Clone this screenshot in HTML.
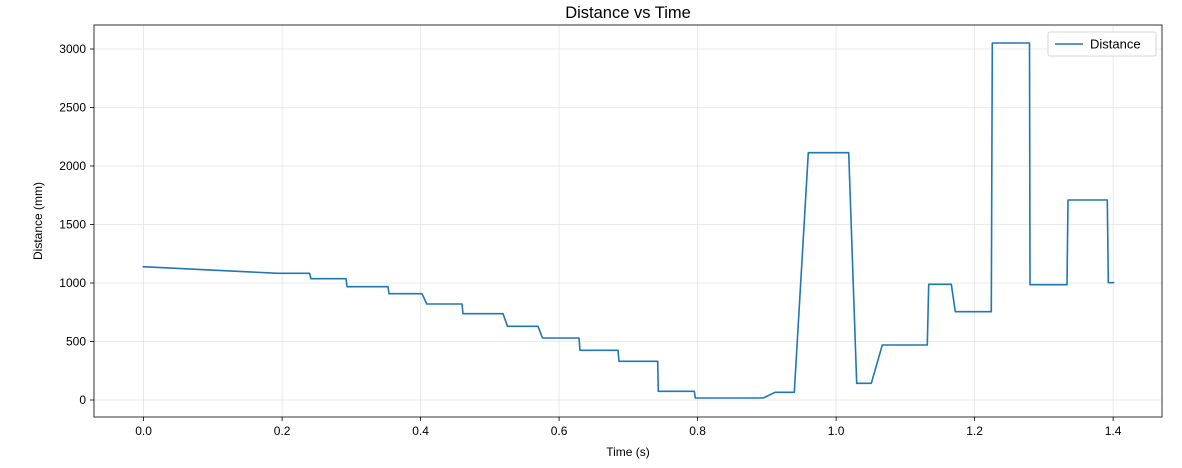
<!DOCTYPE html>
<html><head><meta charset="utf-8"><style>body{margin:0;background:#fff}svg{display:block}text{font-family:"Liberation Sans","DejaVu Sans",sans-serif;fill:#000}</style></head>
<body>
<svg width="1182" height="468" viewBox="0 0 1182 468" xmlns="http://www.w3.org/2000/svg">
<g stroke="#e5e5e5" stroke-width="0.8">
<line x1="143.6" y1="25" x2="143.6" y2="417"/><line x1="282.1" y1="25" x2="282.1" y2="417"/><line x1="420.6" y1="25" x2="420.6" y2="417"/><line x1="559.1" y1="25" x2="559.1" y2="417"/><line x1="697.6" y1="25" x2="697.6" y2="417"/><line x1="836.1" y1="25" x2="836.1" y2="417"/><line x1="974.6" y1="25" x2="974.6" y2="417"/><line x1="1113.1" y1="25" x2="1113.1" y2="417"/>
<line x1="94" y1="400" x2="1162" y2="400"/><line x1="94" y1="341.5" x2="1162" y2="341.5"/><line x1="94" y1="283" x2="1162" y2="283"/><line x1="94" y1="224.5" x2="1162" y2="224.5"/><line x1="94" y1="166" x2="1162" y2="166"/><line x1="94" y1="107.5" x2="1162" y2="107.5"/><line x1="94" y1="49" x2="1162" y2="49"/>
</g>
<polyline fill="none" stroke="#1f77b4" stroke-width="1.6" stroke-linejoin="round" points="142.5,266.7 278,273.3 309.6,273.3 311,278.7 346,278.7 347,286.7 388,286.7 389,293.7 422,293.7 426.8,304 462,304 463,313.7 503,313.7 507.5,326.3 538,326.3 542.5,338 579,338 580,350.3 618,350.3 619,361.3 657.7,361.3 658.3,391.3 694.3,391.3 695.3,398 763.3,398 775,392.3 794.3,392.3 808.3,152.7 848.7,152.7 856.7,383.3 871.3,383.3 882.3,345 927.3,345 928.7,284.3 951.3,284.3 955.3,311.7 991.3,311.7 992.3,43 1029.5,43 1030,284.7 1067,284.7 1068,200 1107.3,200 1108.3,282.7 1114.3,282.7"/>
<rect x="94" y="25" width="1068" height="392" fill="none" stroke="#000" stroke-width="0.8"/>
<g stroke="#000" stroke-width="0.8">
<line x1="143.6" y1="417" x2="143.6" y2="421"/><line x1="282.1" y1="417" x2="282.1" y2="421"/><line x1="420.6" y1="417" x2="420.6" y2="421"/><line x1="559.1" y1="417" x2="559.1" y2="421"/><line x1="697.6" y1="417" x2="697.6" y2="421"/><line x1="836.1" y1="417" x2="836.1" y2="421"/><line x1="974.6" y1="417" x2="974.6" y2="421"/><line x1="1113.1" y1="417" x2="1113.1" y2="421"/>
<line x1="90" y1="400" x2="94" y2="400"/><line x1="90" y1="341.5" x2="94" y2="341.5"/><line x1="90" y1="283" x2="94" y2="283"/><line x1="90" y1="224.5" x2="94" y2="224.5"/><line x1="90" y1="166" x2="94" y2="166"/><line x1="90" y1="107.5" x2="94" y2="107.5"/><line x1="90" y1="49" x2="94" y2="49"/>
</g>
<g font-size="12" text-anchor="middle">
<text x="143.6" y="435">0.0</text><text x="282.1" y="435">0.2</text><text x="420.6" y="435">0.4</text><text x="559.1" y="435">0.6</text><text x="697.6" y="435">0.8</text><text x="836.1" y="435">1.0</text><text x="974.6" y="435">1.2</text><text x="1113.1" y="435">1.4</text>
<text x="628" y="456">Time (s)</text>
</g>
<g font-size="12" text-anchor="end">
<text x="86" y="404">0</text><text x="86" y="345.5">500</text><text x="86" y="287">1000</text><text x="86" y="228.5">1500</text><text x="86" y="170">2000</text><text x="86" y="111.5">2500</text><text x="86" y="53">3000</text>
</g>
<text x="42" y="221" font-size="12" text-anchor="middle" transform="rotate(-90 42 221)">Distance (mm)</text>
<text x="628" y="18" font-size="16.5" text-anchor="middle">Distance vs Time</text>
<rect x="1048" y="32" width="108" height="24" rx="2" fill="#fff" stroke="#ccc" stroke-width="0.8"/>
<line x1="1055" y1="44" x2="1083" y2="44" stroke="#1f77b4" stroke-width="1.6"/>
<text x="1090" y="48.5" font-size="13">Distance</text>
</svg>
</body></html>
